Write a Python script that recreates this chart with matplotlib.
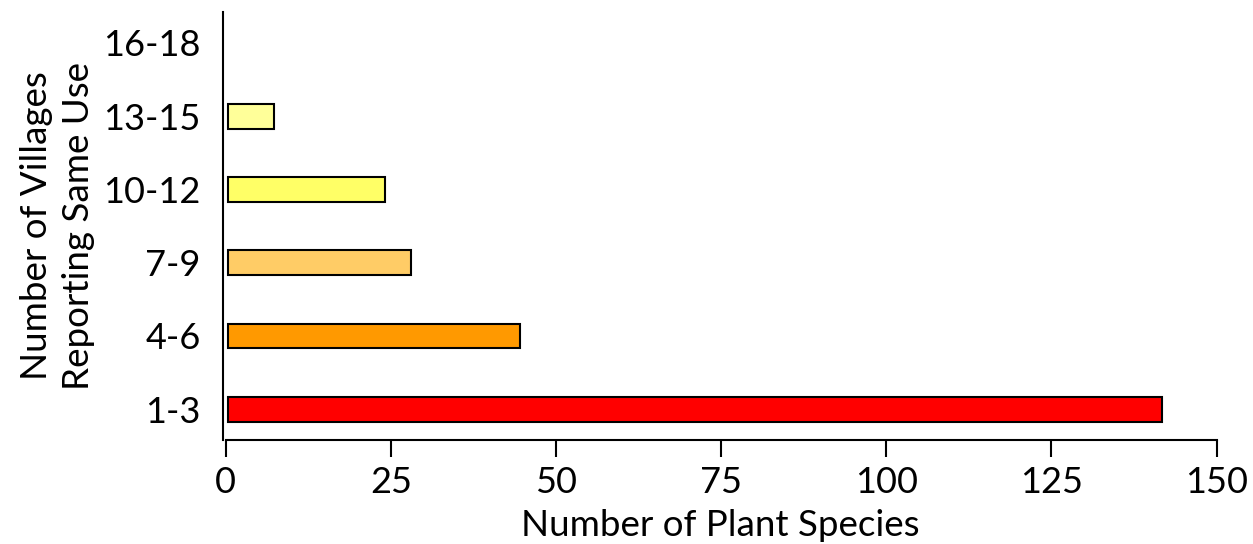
import matplotlib
matplotlib.use("Agg")
import matplotlib.pyplot as plt

categories = ["1-3", "4-6", "7-9", "10-12", "13-15", "16-18"]
species = [141.5, 44.3, 27.8, 23.8, 7, 0]
colors = ["#FF0000", "#FF9900", "#FFCC66", "#FFFF66", "#FFFF99", "#FFFFCC"]
xticks = [0, 25, 50, 75, 100, 125, 150]

plt.rcParams['font.family'] = ['Lato', 'DejaVu Sans']

fig = plt.figure(figsize=(12.53, 5.44), dpi=100)
ax = fig.add_axes([0.178, 0.191, 0.793, 0.787])

pos = range(len(categories))
for i in pos:
    if species[i] > 0:
        ax.barh(i, species[i], height=0.34, left=0.3, color=colors[i],
                edgecolor="black", linewidth=1.5)

ax.set_xlim(-0.4, 150)
ax.set_ylim(-0.42, 5.42)
ax.set_yticks(list(pos))
ax.set_yticklabels(categories)
ax.set_xticks(xticks)

ax.spines['top'].set_visible(False)
ax.spines['right'].set_visible(False)
ax.spines['left'].set_linewidth(1.5)
ax.spines['bottom'].set_linewidth(1.5)
ax.spines['bottom'].set_bounds(0, 150)

ax.tick_params(axis='y', length=0, pad=16, labelsize=26)
ax.tick_params(axis='x', direction='out', length=12, width=1.5, pad=7, labelsize=26)

ax.set_xlabel("Number of Plant Species", fontsize=26.5, labelpad=7)
ax.set_ylabel("Number of Villages\nReporting Same Use", fontsize=26.5, labelpad=6,
              linespacing=1.35)

fig.savefig("out.png", dpi=100)
